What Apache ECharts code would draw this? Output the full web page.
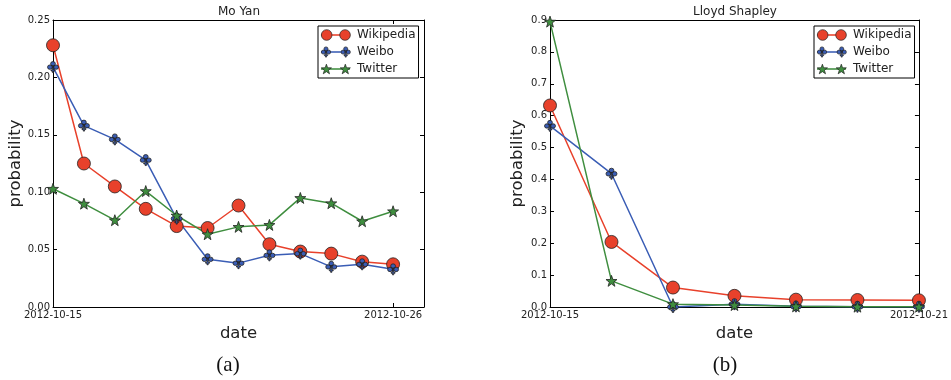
<!DOCTYPE html>
<html>
<head>
<meta charset="utf-8">
<script src="https://cdn.jsdelivr.net/npm/echarts@6/dist/echarts.min.js"></script>
<style>html,body{margin:0;padding:0;background:#fff;}#c{width:951px;height:380px;}</style>
</head>
<body>
<div id="c"></div>
<script>
// ---- data ----
var datesA = ['2012-10-15','2012-10-16','2012-10-17','2012-10-18','2012-10-19','2012-10-20','2012-10-21','2012-10-22','2012-10-23','2012-10-24','2012-10-25','2012-10-26'];
var wikiA = [0.228, 0.125, 0.105, 0.0855, 0.0705, 0.0688, 0.0884, 0.0547, 0.0483, 0.0465, 0.0395, 0.0372];
var weiboA = [0.209, 0.158, 0.146, 0.128, 0.077, 0.0416, 0.0382, 0.0450, 0.0465, 0.0350, 0.0372, 0.0328];
var twitterA = [0.103, 0.090, 0.0756, 0.101, 0.0797, 0.0634, 0.0698, 0.0715, 0.0950, 0.0904, 0.0747, 0.0834];

var datesB = ['2012-10-15','2012-10-16','2012-10-17','2012-10-18','2012-10-19','2012-10-20','2012-10-21'];
var wikiB = [0.632, 0.204, 0.061, 0.035, 0.023, 0.022, 0.021];
var weiboB = [0.568, 0.418, 0.0, 0.009, 0.002, 0.001, 0.001];
var twitterB = [0.895, 0.082, 0.009, 0.006, 0.002, 0.001, 0.001];

var xTickIdxA = [0, 11];
var xTickIdxB = [0, 6];
var titles = ['Mo Yan', 'Lloyd Shapley'];
var captions = ['(a)', '(b)'];
var seriesNames = ['Wikipedia', 'Weibo', 'Twitter'];

// ---- styling ----
var RED = '#e8412b', BLUE = '#3a5db5', GREEN = '#3f8e3f';
var FONT = 'DejaVu Sans';

function circlePath(cx, cy, r) {
  return 'M' + (cx - r) + ',' + cy + ' A' + r + ',' + r + ' 0 1 1 ' + (cx + r) + ',' + cy +
         ' A' + r + ',' + r + ' 0 1 1 ' + (cx - r) + ',' + cy + ' Z ';
}
function starPath(cx, cy, R) {
  var r = R * 0.4, s = 'M';
  for (var i = 0; i < 10; i++) {
    var ang = -Math.PI / 2 + i * Math.PI / 5;
    var rr = (i % 2 === 0) ? R : r;
    s += (cx + rr * Math.cos(ang)).toFixed(3) + ',' + (cy + rr * Math.sin(ang)).toFixed(3) + (i < 9 ? ' L' : ' Z ');
  }
  return s;
}
function clubPath(cx, cy, R) {
  var k = R / 10;
  function P(x, y) { return (cx + (x - 10) * k).toFixed(3) + ',' + (cy + (y - 10) * k).toFixed(3); }
  var cr = 3.9 * k;
  var circ = function (x, y) {
    return circlePath(cx + (x - 10) * k, cy + (y - 10) * k, cr);
  };
  var s = circ(10, 4.2) + circ(5.0, 10.2) + circ(15.0, 10.2);
  s += 'M' + P(9.1, 8) + ' L' + P(10.9, 8) + ' L' + P(11.0, 15.2) + ' L' + P(13.2, 15.2) + ' L' + P(13.2, 17) +
       ' L' + P(11.0, 17) + ' L' + P(11.0, 19.8) + ' L' + P(9.0, 19.8) + ' L' + P(9.0, 17) + ' L' + P(6.8, 17) +
       ' L' + P(6.8, 15.2) + ' L' + P(9.0, 15.2) + ' Z';
  return s;
}
var STAR = 'path://' + starPath(10, 10, 10);
var CLUB = 'path://' + clubPath(10, 10, 10);

// legend icons (two markers joined by a line)
var LW = 30;
var legendBar = 'path://M0,0 L' + LW + ',0 L' + LW + ',1.6 L0,1.6 Z';
var legendIcons = {
  'Wikipedia': 'path://' + circlePath(5.5, 5.5, 5.5) + circlePath(24.5, 5.5, 5.5),
  'Weibo': 'path://' + clubPath(5.2, 5.2, 5.2) + clubPath(24.8, 5.2, 5.2),
  'Twitter': 'path://' + starPath(5.2, 5.5, 5.5) + starPath(24.8, 5.5, 5.5)
};

var gridA = { left: 53, top: 20, width: 371, height: 287 };
var gridB = { left: 550, top: 20, width: 370, height: 287 };

function mkX(gi, max, ticks, dates, pos) {
  var lab = pos === 'bottom';
  return {
    type: 'value', gridIndex: gi, position: pos, min: 0, max: max,
    splitLine: { show: false },
    axisLine: { show: true, onZero: false, lineStyle: { color: '#000', width: 1 } },
    axisTick: { show: true, inside: true, length: 4, customValues: ticks, lineStyle: { color: '#000' } },
    axisLabel: {
      show: lab, customValues: ticks, margin: 3, color: '#222', fontFamily: FONT, fontSize: 10,
      formatter: function (v) { return dates[Math.round(v)]; }
    },
    name: lab ? 'date' : '', nameLocation: 'middle', nameGap: 12,
    nameTextStyle: { fontFamily: FONT, fontSize: 16.5, color: '#222' }
  };
}
function mkY(gi, max, step, dec, pos) {
  var lab = pos === 'left';
  return {
    type: 'value', gridIndex: gi, position: pos, min: 0, max: max, interval: step,
    splitLine: { show: false },
    axisLine: { show: true, onZero: false, lineStyle: { color: '#000', width: 1 } },
    axisTick: { show: true, inside: true, length: 4, lineStyle: { color: '#000' } },
    axisLabel: {
      show: lab, margin: 3, color: '#222', fontFamily: FONT, fontSize: 10,
      formatter: function (v) { return v.toFixed(dec); }
    },
    name: lab ? 'probability' : '', nameLocation: 'middle', nameRotate: 90, nameGap: 24,
    nameTextStyle: { fontFamily: FONT, fontSize: 16.5, color: '#222' }
  };
}

function mkSeries(name, data, color, symbol, size, xi, yi) {
  return {
    type: 'line', name: name, xAxisIndex: xi, yAxisIndex: yi,
    data: data.map(function (v, i) { return [i, v]; }),
    symbol: symbol, symbolSize: size, showAllSymbol: true,
    lineStyle: { color: color, width: 1.5 },
    itemStyle: { color: color, borderColor: '#222', borderWidth: 0.8 },
    emphasis: { disabled: true },
    animation: false, clip: true
  };
}

function mkLegends(left) {
  var common = {
    orient: 'vertical', left: left, top: 26,
    itemWidth: 29, itemHeight: 11, itemGap: 5,
    padding: [3, 3, 3, 3], selectedMode: false,
    data: seriesNames
  };
  var bar = Object.assign({}, common, {
    borderColor: '#000', borderWidth: 1, backgroundColor: '#fff',
    icon: legendBar,
    itemStyle: { borderWidth: 0 },
    textStyle: { fontFamily: FONT, fontSize: 12, color: '#222', padding: [0, 0, 0, 2] }
  });
  var marks = Object.assign({}, common, {
    borderWidth: 0,
    data: seriesNames.map(function (n) { return { name: n, icon: legendIcons[n] }; }),
    itemStyle: { borderColor: '#222', borderWidth: 0.7 },
    textStyle: { fontFamily: FONT, fontSize: 12, color: 'rgba(0,0,0,0)', padding: [0, 0, 0, 2] }
  });
  return [bar, marks];
}

var option = {
  animation: false,
  backgroundColor: '#fff',
  title: [
    { text: titles[0], left: 239, top: 6, textAlign: 'center', padding: 0,
      textStyle: { fontFamily: FONT, fontSize: 12, fontWeight: 'normal', color: '#222' } },
    { text: titles[1], left: 735, top: 6, textAlign: 'center', padding: 0,
      textStyle: { fontFamily: FONT, fontSize: 12, fontWeight: 'normal', color: '#222' } },
    { text: captions[0], left: 228, top: 355, textAlign: 'center', padding: 0,
      textStyle: { fontFamily: 'Liberation Serif', fontSize: 21, fontWeight: 'normal', color: '#111' } },
    { text: captions[1], left: 725, top: 355, textAlign: 'center', padding: 0,
      textStyle: { fontFamily: 'Liberation Serif', fontSize: 21, fontWeight: 'normal', color: '#111' } }
  ],
  grid: [gridA, gridB],
  xAxis: [
    mkX(0, 12, xTickIdxA, datesA, 'bottom'),
    mkX(0, 12, xTickIdxA, datesA, 'top'),
    mkX(1, 6, xTickIdxB, datesB, 'bottom'),
    mkX(1, 6, xTickIdxB, datesB, 'top')
  ],
  yAxis: [
    mkY(0, 0.25, 0.05, 2, 'left'),
    mkY(0, 0.25, 0.05, 2, 'right'),
    mkY(1, 0.9, 0.1, 1, 'left'),
    mkY(1, 0.9, 0.1, 1, 'right')
  ],
  legend: mkLegends(318).concat(mkLegends(814)),
  series: [
    mkSeries('Wikipedia', wikiA, RED, 'circle', 13, 0, 0),
    mkSeries('Weibo', weiboA, BLUE, CLUB, 11, 0, 0),
    mkSeries('Twitter', twitterA, GREEN, STAR, 11, 0, 0),
    mkSeries('Wikipedia', wikiB, RED, 'circle', 13, 2, 2),
    mkSeries('Weibo', weiboB, BLUE, CLUB, 11, 2, 2),
    mkSeries('Twitter', twitterB, GREEN, STAR, 11, 2, 2)
  ]
};
var chart = echarts.init(document.getElementById('c'), null, { renderer: 'canvas' });
chart.setOption(option);
</script>
</body>
</html>
